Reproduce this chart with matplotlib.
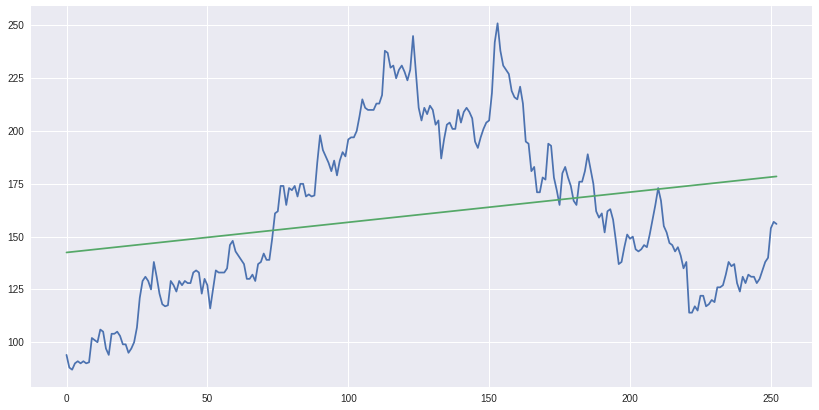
import matplotlib
matplotlib.use("Agg")
import matplotlib.pyplot as plt
import numpy as np

values = [
    94, 88, 87, 90, 91, 90, 91, 90, 90.5, 102,
    101, 100, 106, 105, 97, 94, 104, 104, 105, 103,
    99, 99, 95, 97, 100, 107, 121, 129, 131, 129,
    125, 138, 131, 123, 118, 117, 117.5, 129, 127, 124,
    129, 127, 129, 128, 128, 133, 134, 133, 123, 130,
    127, 116, 125, 134, 133, 133, 133, 135, 146, 148,
    143, 141, 139, 137, 130, 130, 132, 129, 137, 138,
    142, 139, 139, 149, 161, 162, 174, 174, 165, 173,
    172, 174, 169, 175, 175, 169, 170, 169, 169.5, 185,
    198, 191, 188, 185, 181, 186, 179, 186, 190, 188,
    196, 197, 197, 200, 207, 215, 211, 210, 210, 210,
    213, 213, 217, 238, 237, 230, 231, 225, 229, 231,
    228, 224, 229, 245, 228, 211, 205, 211, 208, 212,
    210, 203, 205, 187, 196, 203, 204, 201, 201, 210,
    204, 209, 211, 209, 206, 195, 192, 197, 201, 204,
    205, 218, 242, 251, 238, 231, 229, 227, 219, 216,
    215, 221, 213, 195, 194, 181, 183, 171, 171, 178,
    177, 194, 193, 178, 172, 165, 180, 183, 178, 174,
    167, 165, 176, 176, 181, 189, 182, 175, 162, 159,
    161, 152, 162, 163, 158, 148, 137, 138, 145, 151,
    149, 150, 144, 143, 144, 146, 145, 151, 158, 165,
    173, 167, 155, 152, 147, 146, 143, 145, 141, 135,
    138, 114, 114, 117, 115, 122, 122, 117, 118, 120,
    119, 126, 126, 127, 132, 138, 136, 137, 128, 124,
    131, 128, 132, 131, 131, 128, 130, 134, 138, 140,
    154, 157, 156,
]
trend_x = [0, 252]
trend_y = [142.5, 178.5]

plt.style.use("seaborn-v0_8")
plt.rcParams["font.family"] = ["Liberation Sans", "DejaVu Sans"]

fig = plt.figure(figsize=(819 / 72, 410 / 72), dpi=72)
ax = fig.add_axes([31 / 819, 1 - 387 / 410, (812 - 31) / 819, (387 - 6) / 410])
ax.plot(np.arange(len(values)), values, color="#4C72B0", linewidth=1.75)
ax.plot(trend_x, trend_y, color="#55A868", linewidth=1.75)
ax.set_yticks([100, 125, 150, 175, 200, 225, 250])
ax.set_xticks([0, 50, 100, 150, 200, 250])
ax.tick_params(labelsize=10)
fig.savefig("out.png", dpi=72, facecolor="white")
